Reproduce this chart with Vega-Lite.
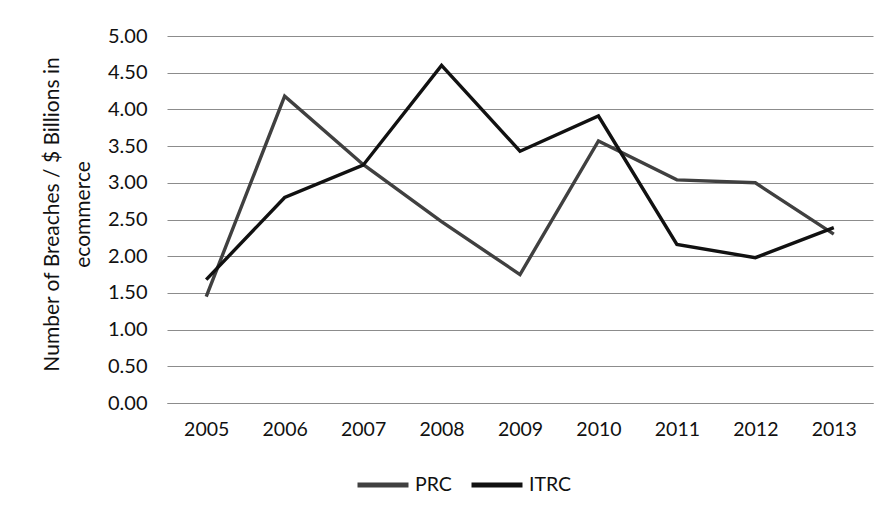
{
  "$schema": "https://vega.github.io/schema/vega-lite/v6.json",
  "width": 706,
  "height": 367,
  "autosize": "none",
  "padding": {"left": 167, "top": 36, "right": 14, "bottom": 110},
  "background": "white",
  "config": {
    "font": "Lato",
    "view": {"stroke": null},
    "axis": {"labelFont": "Lato", "titleFont": "Lato", "labelColor": "#111", "titleColor": "#111"}
  },
  "data": {
    "values": [
      {"year": "2005", "series": "PRC", "value": 1.45},
      {"year": "2006", "series": "PRC", "value": 4.18},
      {"year": "2007", "series": "PRC", "value": 3.25},
      {"year": "2008", "series": "PRC", "value": 2.47},
      {"year": "2009", "series": "PRC", "value": 1.75},
      {"year": "2010", "series": "PRC", "value": 3.57},
      {"year": "2011", "series": "PRC", "value": 3.04},
      {"year": "2012", "series": "PRC", "value": 3.00},
      {"year": "2013", "series": "PRC", "value": 2.30},
      {"year": "2005", "series": "ITRC", "value": 1.68},
      {"year": "2006", "series": "ITRC", "value": 2.80},
      {"year": "2007", "series": "ITRC", "value": 3.24},
      {"year": "2008", "series": "ITRC", "value": 4.60},
      {"year": "2009", "series": "ITRC", "value": 3.43},
      {"year": "2010", "series": "ITRC", "value": 3.91},
      {"year": "2011", "series": "ITRC", "value": 2.16},
      {"year": "2012", "series": "ITRC", "value": 1.98},
      {"year": "2013", "series": "ITRC", "value": 2.39}
    ]
  },
  "mark": {"type": "line", "strokeWidth": 3.4, "strokeJoin": "miter"},
  "encoding": {
    "x": {
      "field": "year",
      "type": "ordinal",
      "scale": {"padding": 0.5},
      "axis": {
        "title": null,
        "labelAngle": 0,
        "labelFontSize": 19.5,
        "labelPadding": 17,
        "ticks": false,
        "domainColor": "#8c8c8c",
        "domainWidth": 1
      }
    },
    "y": {
      "field": "value",
      "type": "quantitative",
      "scale": {"domain": [0, 5], "nice": false},
      "axis": {
        "title": ["Number of Breaches / $ Billions in", "ecommerce"],
        "titleFontSize": 21,
        "titleFontWeight": "normal",
        "titlePadding": 14,
        "titleLineHeight": 31,
        "titleY": 178,
        "values": [0, 0.5, 1, 1.5, 2, 2.5, 3, 3.5, 4, 4.5, 5],
        "format": ".2f",
        "labelFontSize": 20,
        "labelPadding": 20,
        "ticks": false,
        "domain": false,
        "gridColor": "#8c8c8c",
        "gridWidth": 1,
        "gridOpacity": 1
      }
    },
    "color": {
      "field": "series",
      "type": "nominal",
      "sort": ["PRC", "ITRC"],
      "scale": {"domain": ["PRC", "ITRC"], "range": ["#404040", "#111111"]},
      "legend": {
        "title": null,
        "orient": "none",
        "direction": "horizontal",
        "legendX": 188,
        "legendY": 421,
        "symbolType": "stroke",
        "symbolSize": 2600,
        "symbolStrokeWidth": 5,
        "labelFontSize": 19.5,
        "labelColor": "#111",
        "labelOffset": 4,
        "columnPadding": 9
      }
    }
  }
}
